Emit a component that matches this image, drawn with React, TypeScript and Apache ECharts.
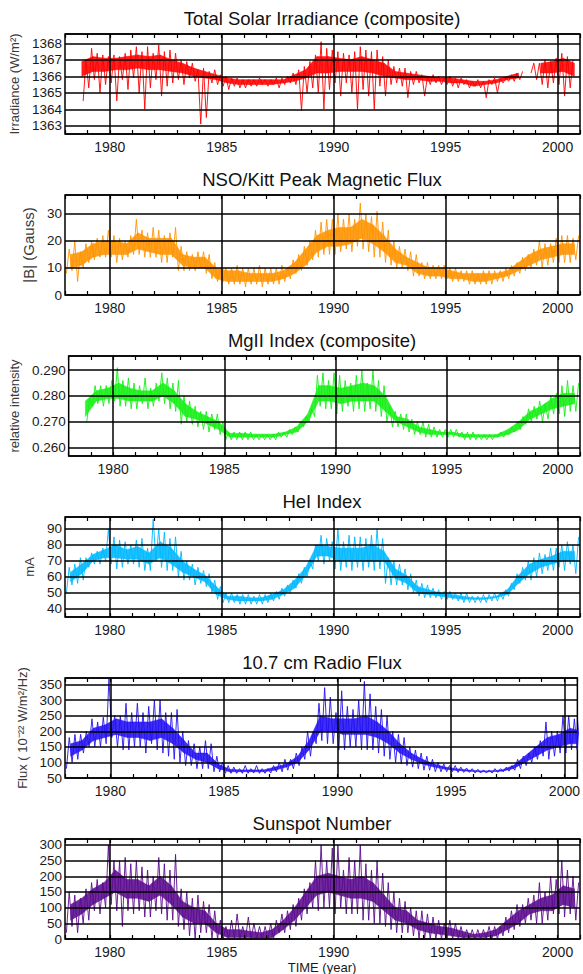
import React, { useEffect, useRef } from "react";
import * as echarts from "echarts";

// ---- time bins ----
const BIN_START = 1978;
const BIN_STEP = 0.25; // extremes (spikes): quarter-year bins
const CORE_STEP = 0.5; // dense core band: half-year bins
const gridYears = [1980, 1985, 1990, 1995, 2000];

// ---- Total Solar Irradiance (W/m2) ----
const tsiHi = [
  null, null, null, 1367.0,
  1367.7, 1367.4, 1367.3, 1367.2,
  1367.3, 1367.2, 1367.4, 1367.6,
  1367.8, 1367.5, 1367.8, 1367.4,
  1367.9, 1367.5, 1367.6, 1367.4,
  1367.0, 1366.9, 1366.8, 1366.4,
  1366.5, 1366.3, 1366.4, 1366.1,
  1366.0, 1365.9, 1365.9, 1365.8,
  1365.8, 1365.8, 1365.9, 1365.8,
  1365.8, 1365.9, 1365.9, 1366.0,
  1366.2, 1366.4, 1366.6, 1366.9,
  1367.3, 1368.1, 1367.7, 1367.6,
  1367.5, 1367.4, 1367.3, 1367.5,
  1367.8, 1367.6, 1367.5, 1367.6,
  1367.2, 1367.0, 1366.6, 1366.5,
  1366.5, 1366.3, 1366.3, 1366.1,
  1366.0, 1366.1, 1366.0, 1365.9,
  1366.0, 1365.9, 1365.9, 1365.8,
  1365.7, 1365.8, 1365.7, 1365.8,
  1365.9, 1365.9, 1365.9, 1366.1,
  1366.2, 1366.3, null, 1366.8,
  1366.8, 1367.0, 1366.9, 1367.1,
  1367.4, 1367.2, 1367.0, null,
];
const tsiLo = [
  null, null, null, 1364.5,
  1365.3, 1365.8, 1365.0, 1365.5,
  1365.6, 1364.5, 1365.8, 1365.2,
  1365.9, 1365.0, 1364.0, 1365.3,
  1365.8, 1364.8, 1365.4, 1365.6,
  1365.8, 1365.5, 1365.9, 1365.7,
  1363.1, 1363.5, 1365.6, 1365.5,
  1365.4, 1365.2, 1365.4, 1365.3,
  1365.3, 1365.4, 1365.4, 1365.5,
  1365.4, 1365.5, 1365.3, 1365.5,
  1365.6, 1365.5, 1363.9, 1365.0,
  1365.3, 1365.0, 1364.0, 1365.2,
  1365.6, 1364.8, 1365.6, 1365.0,
  1364.0, 1365.2, 1364.8, 1364.0,
  1365.4, 1364.8, 1365.5, 1365.6,
  1365.4, 1364.7, 1365.5, 1365.6,
  1364.8, 1365.5, 1365.6, 1365.5,
  1365.5, 1365.4, 1365.3, 1365.5,
  1365.3, 1365.4, 1365.3, 1364.7,
  1365.5, 1365.0, 1365.6, 1365.7,
  1365.7, 1365.8, null, 1366.2,
  1365.8, 1365.5, 1365.3, 1365.6,
  1365.5, 1364.8, 1365.3, null,
];
const tsiCoreHi = [
  null, 1366.9, 1367.2, 1367.1, 1367.1, 1367.2, 1367.3, 1367.2, 1367.3, 1367.0,
  1366.8, 1366.5, 1366.3, 1366.1, 1365.9, 1365.8, 1365.8, 1365.8, 1365.8, 1365.8,
  1366.1, 1366.4, 1367.2, 1367.2, 1367.1, 1367.0, 1367.2, 1367.0, 1366.8, 1366.3,
  1366.2, 1366.1, 1366.0, 1365.9, 1365.9, 1365.8, 1365.7, 1365.7, 1365.8, 1366.0,
  1366.2, null, 1366.8, 1366.9, 1367.1, 1366.8,
];
const tsiCoreLo = [
  null, 1366.0, 1366.3, 1366.3, 1366.4, 1366.4, 1366.5, 1366.4, 1366.4, 1366.3,
  1366.2, 1366.0, 1365.9, 1365.8, 1365.6, 1365.5, 1365.5, 1365.5, 1365.5, 1365.6,
  1365.7, 1365.9, 1366.2, 1366.2, 1366.3, 1366.3, 1366.3, 1366.2, 1366.0, 1365.9,
  1365.8, 1365.8, 1365.7, 1365.7, 1365.6, 1365.6, 1365.4, 1365.5, 1365.6, 1365.8,
  1365.9, null, 1366.2, 1366.2, 1366.3, 1366.0,
];

// ---- NSO/Kitt Peak magnetic flux |B| (Gauss) ----
const fluxHi = [
  17, 20, 16, 19,  20, 21, 22, 24,  22, 21, 20, 22,  28, 24, 23, 25,
  24, 22, 23, 25,  18, 16, 15, 16,  16, 15, 12, 10,  10, 10, 11, 10,
  10, 10, 11, 10,  10, 10, 11, 10,  13, 15, 18, 20,  24, 27, 28, 28,
  30, 28, 30, 28,  34, 30, 29, 31,  27, 24, 20, 18,  17, 16, 15, 12,
  12, 11, 11, 11,  10, 10, 9, 9,  9, 8, 9, 9,  9, 9, 10, 11,
  12, 14, 15, 17,  20, 19, 19, 21,  22, 22, 21, 22,
];
const fluxLo = [
  8, 9, 5, 10,  12, 13, 14, 14,  14, 12, 13, 14,  15, 15, 14, 14,
  14, 12, 12, 14,  9, 9, 9, 9,  10, 8, 6, 5,  5, 4, 4, 4,
  3, 4, 4, 3,  4, 4, 4, 5,  6, 8, 9, 11,  13, 14, 15, 15,
  15, 16, 17, 16,  18, 17, 16, 14,  14, 12, 11, 10,  10, 9, 7, 7,
  6, 6, 6, 6,  6, 5, 5, 5,  4, 4, 4, 4,  4, 5, 5, 6,
  7, 8, 9, 10,  11, 10, 11, 12,  12, 12, 12, 13,
];
const fluxCoreHi = [
  15, 16, 19, 20, 20, 19, 23, 21, 21, 21, 15, 14, 14, 10, 9, 9, 8, 8, 8, 9,
  12, 17, 22, 24, 25, 25, 28, 26, 22, 17, 14, 12, 10, 10, 9, 8, 8, 8, 8, 9,
  12, 15, 17, 18, 19, 19,
];
const fluxCoreLo = [
  10, 11, 14, 15, 15, 15, 17, 16, 15, 15, 11, 10, 10, 6, 5, 5, 5, 5, 5, 6,
  8, 11, 16, 18, 18, 19, 21, 19, 16, 12, 11, 8, 7, 7, 6, 6, 5, 5, 6, 7,
  9, 11, 13, 14, 15, 15,
];

// ---- MgII index (relative intensity) ----
const mgHi = [
  null, null, null, 0.279,
  0.284, 0.284, 0.284, 0.286,  0.291, 0.286, 0.287, 0.285,
  0.284, 0.287, 0.283, 0.285,  0.289, 0.287, 0.285, 0.286,
  0.280, 0.278, 0.276, 0.274,  0.274, 0.273, 0.273, 0.270,
  0.266, 0.266, 0.266, 0.266,  0.266, 0.265, 0.265, 0.265,
  0.265, 0.266, 0.266, 0.267,  0.268, 0.270, 0.272, 0.275,
  0.288, 0.289, 0.286, 0.289,  0.288, 0.286, 0.285, 0.288,
  0.290, 0.285, 0.290, 0.286,  0.284, 0.276, 0.274, 0.273,
  0.273, 0.271, 0.270, 0.270,  0.269, 0.268, 0.267, 0.267,
  0.267, 0.267, 0.266, 0.266,  0.266, 0.265, 0.265, 0.265,
  0.265, 0.266, 0.266, 0.268,  0.270, 0.272, 0.275, 0.276,
  0.278, 0.277, 0.280, 0.281,  0.284, 0.286, 0.284, 0.285,
];
const mgLo = [
  null, null, null, 0.270,
  0.276, 0.277, 0.276, 0.277,  0.278, 0.276, 0.276, 0.275,
  0.275, 0.277, 0.275, 0.276,  0.278, 0.277, 0.275, 0.274,
  0.269, 0.270, 0.269, 0.268,  0.267, 0.266, 0.267, 0.265,
  0.263, 0.263, 0.263, 0.263,  0.263, 0.263, 0.263, 0.263,
  0.263, 0.263, 0.264, 0.264,  0.265, 0.266, 0.268, 0.270,
  0.272, 0.276, 0.275, 0.275,  0.273, 0.274, 0.276, 0.274,
  0.275, 0.274, 0.275, 0.274,  0.272, 0.270, 0.268, 0.268,
  0.267, 0.266, 0.265, 0.265,  0.264, 0.264, 0.264, 0.264,
  0.264, 0.264, 0.264, 0.263,  0.263, 0.263, 0.263, 0.263,
  0.263, 0.264, 0.264, 0.265,  0.266, 0.267, 0.269, 0.270,
  0.271, 0.270, 0.271, 0.273,  0.273, 0.272, 0.274, 0.274,
];
const mgCoreHi = [
  null, 0.278, 0.282, 0.283, 0.285, 0.283, 0.282, 0.282, 0.285, 0.282,
  0.277, 0.274, 0.272, 0.270, 0.2655, 0.2655, 0.2652, 0.2652, 0.2652, 0.266,
  0.268, 0.273, 0.284, 0.284, 0.283, 0.284, 0.285, 0.284, 0.280, 0.272,
  0.271, 0.268, 0.267, 0.266, 0.266, 0.2652, 0.265, 0.265, 0.265, 0.267,
  0.270, 0.274, 0.276, 0.279, 0.281, 0.281,
];
const mgCoreLo = [
  null, 0.272, 0.278, 0.279, 0.279, 0.278, 0.278, 0.278, 0.280, 0.277,
  0.272, 0.271, 0.269, 0.267, 0.264, 0.264, 0.264, 0.264, 0.264, 0.265,
  0.266, 0.270, 0.278, 0.278, 0.277, 0.278, 0.278, 0.278, 0.274, 0.270,
  0.268, 0.266, 0.265, 0.265, 0.265, 0.264, 0.264, 0.264, 0.264, 0.265,
  0.267, 0.271, 0.273, 0.275, 0.276, 0.277,
];

// ---- HeI index (mA) ----
const heHi = [
  66, 68, 72, 72,  75, 76, 78, 90,  85, 83, 82, 80,  83, 84, 78, 96,
  90, 88, 84, 85,  76, 70, 68, 66,  64, 62, 58, 54,  50, 50, 49, 49,
  49, 48, 49, 49,  50, 51, 53, 55,  58, 62, 66, 70,  80, 86, 84, 82,
  90, 82, 86, 85,  85, 84, 86, 90,  84, 72, 70, 68,  65, 62, 58, 56,
  55, 53, 52, 51,  51, 50, 50, 50,  48, 48, 49, 49,  50, 50, 52, 56,
  62, 66, 70, 72,  75, 74, 78, 78,  80, 82, 80, 85,
];
const heLo = [
  50, 55, 56, 58,  66, 68, 68, 70,  68, 65, 66, 68,  68, 66, 64, 64,
  70, 66, 64, 64,  60, 58, 58, 55,  56, 54, 50, 46,  44, 44, 44, 43,
  43, 43, 43, 43,  44, 45, 46, 48,  50, 53, 56, 60,  65, 70, 68, 70,
  65, 64, 66, 64,  66, 64, 66, 64,  65, 56, 55, 55,  55, 52, 50, 48,
  47, 47, 47, 46,  46, 46, 45, 44,  44, 44, 44, 44,  45, 45, 46, 48,
  52, 56, 58, 58,  60, 62, 64, 64,  66, 64, 68, 62,
];
const heCoreHi = [
  63, 68, 74, 77, 80, 77, 79, 75, 82, 78, 70, 65, 61, 54, 48, 48, 47, 47, 49, 52,
  58, 66, 80, 79, 78, 78, 78, 80, 76, 65, 61, 54, 52, 50, 49, 48, 47, 47, 48, 52,
  61, 68, 71, 73, 76, 76,
];
const heCoreLo = [
  57, 62, 70, 72, 72, 71, 71, 68, 72, 68, 63, 60, 57, 49, 46, 45, 45, 45, 46, 49,
  53, 61, 73, 73, 70, 70, 70, 70, 70, 59, 56, 50, 49, 48, 47, 46, 46, 46, 47, 49,
  56, 62, 66, 68, 70, 70,
];

// ---- 10.7 cm radio flux (10^-22 W/m2/Hz) ----
const radioHi = [
  180, 190, 190, 200,  240, 230, 245, 370,  250, 250, 290, 260,  290, 260, 280, 300,
  300, 260, 260, 270,  200, 170, 160, 150,  170, 160, 120, 100,  90, 85, 80, 90,
  80, 90, 80, 80,  90, 100, 110, 110,  130, 150, 200, 200,  290, 340, 310, 260,
  330, 280, 270, 300,  360, 320, 280, 270,  250, 200, 190, 180,  150, 140, 130, 120,
  110, 100, 95, 90,  90, 85, 82, 80,  78, 76, 76, 80,  80, 85, 90, 110,
  120, 130, 150, 170,  230, 200, 200, 250,  250, 240, 260, 260,
];
const radioLo = [
  80, 100, 110, 130,  150, 150, 150, 160,  180, 150, 140, 140,  150, 150, 130, 160,
  140, 130, 120, 110,  100, 90, 90, 80,  80, 80, 70, 70,  65, 65, 65, 65,
  65, 66, 65, 65,  66, 70, 70, 75,  80, 90, 110, 120,  160, 170, 160, 160,
  140, 140, 150, 150,  140, 140, 140, 130,  120, 110, 100, 95,  90, 85, 80, 75,
  75, 70, 70, 70,  70, 68, 68, 68,  66, 66, 66, 66,  68, 70, 72, 75,
  80, 90, 100, 110,  120, 110, 120, 130,  130, 140, 140, 140,
];
const radioCoreHi = [
  160, 170, 210, 220, 240, 230, 230, 230, 240, 210, 170, 130, 130, 95, 78, 76, 76, 76, 85, 95,
  120, 170, 250, 240, 240, 240, 250, 230, 200, 160, 130, 110, 95, 85, 80, 76, 73, 73, 76, 90,
  120, 150, 180, 190, 210, 200,
];
const radioCoreLo = [
  120, 140, 170, 180, 190, 180, 180, 170, 180, 160, 130, 110, 100, 80, 70, 70, 70, 70, 75, 85,
  100, 140, 200, 200, 190, 190, 190, 180, 160, 130, 110, 95, 85, 78, 74, 72, 70, 70, 72, 80,
  100, 120, 140, 150, 160, 160,
];

// ---- Sunspot number ----
const ssnHi = [
  150, 140, 130, 160,  180, 190, 180, 300,  250, 250, 260, 240,  250, 230, 220, 200,
  260, 240, 220, 270,  160, 150, 130, 140,  120, 110, 90, 60,  40, 60, 80, 40,
  70, 50, 40, 40,  50, 60, 80, 90,  110, 130, 160, 180,  250, 300, 250, 290,
  300, 220, 260, 250,  300, 240, 220, 250,  210, 180, 150, 130,  120, 100, 90, 90,
  80, 70, 60, 50,  60, 50, 40, 30,  30, 30, 30, 40,  40, 40, 70, 90,
  110, 110, 130, 140,  180, 150, 200, 190,  250, 220, 200, 180,
];
const ssnLo = [
  20, 40, 20, 50,  60, 90, 80, 100,  110, 90, 40, 90,  80, 90, 70, 70,
  90, 80, 60, 60,  40, 30, 10, 0,  20, 20, 0, 0,  0, 0, 0, 0,
  0, 0, 0, 0,  0, 0, 20, 20,  30, 40, 60, 80,  100, 90, 100, 100,
  80, 100, 80, 80,  80, 60, 60, 50,  50, 40, 30, 20,  20, 20, 10, 0,
  0, 0, 0, 0,  0, 0, 0, 0,  0, 0, 0, 0,  0, 0, 10, 20,
  30, 40, 50, 60,  50, 50, 60, 80,  80, 70, 80, 60,
];
const ssnCoreHi = [
  110, 130, 160, 180, 220, 190, 190, 170, 200, 170, 120, 100, 90, 50, 30, 30, 25, 20, 30, 60,
  100, 150, 200, 210, 200, 190, 200, 180, 140, 100, 90, 60, 50, 40, 35, 25, 15, 20, 30, 60,
  90, 110, 130, 140, 170, 160,
];
const ssnCoreLo = [
  60, 80, 110, 130, 150, 130, 130, 120, 140, 110, 70, 50, 50, 20, 5, 5, 5, 0, 5, 30,
  60, 100, 140, 150, 140, 130, 130, 120, 90, 60, 50, 30, 20, 15, 10, 5, 5, 5, 10, 30,
  50, 80, 90, 90, 110, 100,
];

const FONT = '"Liberation Sans", Arial, Helvetica, sans-serif';
const BOX_LEFT = 65;
const BOX_RIGHT = 3;
const BOX_TOP0 = 34;
const PITCH = 161;
const BOX_H = 100;
const CX = 322;

type Arr = (number | null)[];
type Panel = {
  title: string;
  hi: Arr; lo: Arr; coreHi: Arr; coreLo: Arr;
  color: string;
  yMin: number; yMax: number; yStep: number; dec: number;
  xMax: number;
  yName: string; nameGap: number; nameSize: number;
};

const panels: Panel[] = [
  { title: "Total Solar Irradiance (composite)", hi: tsiHi, lo: tsiLo, coreHi: tsiCoreHi, coreLo: tsiCoreLo, color: "#ff0000", yMin: 1362.5, yMax: 1368.57, yStep: 1, dec: 0, xMax: 2001, yName: "Irradiance (W/m²)", nameGap: 40, nameSize: 13 },
  { title: "NSO/Kitt Peak Magnetic Flux", hi: fluxHi, lo: fluxLo, coreHi: fluxCoreHi, coreLo: fluxCoreLo, color: "#ff9400", yMin: 0, yMax: 37, yStep: 10, dec: 0, xMax: 2001, yName: "|B| (Gauss)", nameGap: 25, nameSize: 15 },
  { title: "MgII Index (composite)", hi: mgHi, lo: mgLo, coreHi: mgCoreHi, coreLo: mgCoreLo, color: "#14f014", yMin: 0.2567, yMax: 0.2955, yStep: 0.01, dec: 3, xMax: 2001, yName: "relative intensity", nameGap: 43, nameSize: 13 },
  { title: "HeI Index", hi: heHi, lo: heLo, coreHi: heCoreHi, coreLo: heCoreLo, color: "#00b8ff", yMin: 35, yMax: 97.4, yStep: 10, dec: 0, xMax: 2001, yName: "mA", nameGap: 25, nameSize: 13 },
  { title: "10.7 cm Radio Flux", hi: radioHi, lo: radioLo, coreHi: radioCoreHi, coreLo: radioCoreLo, color: "#2412f2", yMin: 50, yMax: 371, yStep: 50, dec: 0, xMax: 2000.57, yName: "Flux ( 10⁻²² W/m²/Hz)", nameGap: 36, nameSize: 13 },
  { title: "Sunspot Number", hi: ssnHi, lo: ssnLo, coreHi: ssnCoreHi, coreLo: ssnCoreLo, color: "#5b0b8e", yMin: 0, yMax: 319, yStep: 50, dec: 0, xMax: 2001, yName: "", nameGap: 30, nameSize: 13 },
];

function zigzag(hi: Arr, lo: Arr) {
  const pts: any[] = [];
  for (let i = 0; i < hi.length; i++) {
    const t = BIN_START + i * BIN_STEP;
    const h = hi[i];
    const l = lo[i];
    if (h == null || l == null) {
      pts.push([t + BIN_STEP / 2, "-"]);
      continue;
    }
    pts.push([t + BIN_STEP * 0.25, l]);
    pts.push([t + BIN_STEP * 0.75, h]);
  }
  return pts;
}

// one quad per pair of consecutive core bins: [t0, lo0, hi0, t1, lo1, hi1]
function coreQuads(hi: Arr, lo: Arr) {
  const out: number[][] = [];
  for (let j = 0; j + 1 < hi.length; j++) {
    const h0 = hi[j], l0 = lo[j], h1 = hi[j + 1], l1 = lo[j + 1];
    if (h0 == null || l0 == null || h1 == null || l1 == null) continue;
    out.push([BIN_START + (j + 0.5) * CORE_STEP, l0, h0, BIN_START + (j + 1.5) * CORE_STEP, l1, h1]);
  }
  return out;
}

function isMultiple(v: number, step: number) {
  const r = v / step;
  return Math.abs(r - Math.round(r)) < 1e-6;
}

export default function App() {
  const ref = useRef<HTMLDivElement>(null);
  useEffect(() => {
    if (!ref.current) return;
    const chart = echarts.init(ref.current, undefined, { renderer: "svg" });
    const grid: any[] = [];
    const xAxis: any[] = [];
    const yAxis: any[] = [];
    const series: any[] = [];
    const graphic: any[] = [];

    panels.forEach((p, k) => {
      const top = BOX_TOP0 + k * PITCH;
      grid.push({ left: BOX_LEFT, right: BOX_RIGHT, top, height: BOX_H, show: true, borderColor: "#000", borderWidth: 1.5, backgroundColor: "transparent" });
      const tickCfg = { show: true, inside: true, length: 4, lineStyle: { color: "#000", width: 1.2 } };
      xAxis.push({
        type: "value", gridIndex: k, min: 1978, max: p.xMax, interval: 1, position: "bottom",
        axisLine: { show: false }, axisTick: tickCfg, splitLine: { show: false },
        axisLabel: {
          fontSize: 14, fontFamily: FONT, color: "#1a1a1a", margin: 6,
          formatter: (v: number) => (isMultiple(v, 5) ? String(Math.round(v)) : ""),
        },
        z: 5,
      });
      xAxis.push({
        type: "value", gridIndex: k, min: 1978, max: p.xMax, interval: 1, position: "top",
        axisLine: { show: false }, axisTick: tickCfg, splitLine: { show: false }, axisLabel: { show: false },
        z: 5,
      });
      yAxis.push({
        type: "value", gridIndex: k, min: p.yMin, max: p.yMax, minInterval: p.yStep, maxInterval: p.yStep, splitNumber: 5,
        axisLine: { show: false }, axisTick: { show: false },
        axisLabel: {
          fontSize: 13.5, fontFamily: FONT, color: "#1a1a1a", margin: 3,
          formatter: (v: number) => (isMultiple(v, p.yStep) ? v.toFixed(p.dec) : ""),
        },
        splitLine: { show: true, lineStyle: { color: "#000", width: 1.5 } },
        name: p.yName, nameLocation: "middle", nameGap: p.nameGap,
        nameTextStyle: { fontSize: p.nameSize, fontFamily: FONT, color: "#3a3a3a" },
        z: 5,
      });
      const color = p.color;
      series.push({
        type: "custom", xAxisIndex: 2 * k, yAxisIndex: k, data: coreQuads(p.coreHi, p.coreLo),
        encode: { x: [0, 3], y: [1, 2, 4, 5] }, silent: true, clip: true, z: 2,
        renderItem: (_params: any, api: any) => {
          const a = api.coord([api.value(0), api.value(1)]);
          const b = api.coord([api.value(3), api.value(4)]);
          const c = api.coord([api.value(3), api.value(5)]);
          const d = api.coord([api.value(0), api.value(2)]);
          return {
            type: "polygon",
            shape: { points: [a, b, c, d] },
            style: { fill: color, stroke: color, lineWidth: 0.5, opacity: 0.88 },
          };
        },
      });
      series.push({
        type: "line", xAxisIndex: 2 * k, yAxisIndex: k, data: zigzag(p.hi, p.lo),
        showSymbol: false, symbol: "none", silent: true, connectNulls: false, clip: true,
        lineStyle: { color: p.color, width: 1, opacity: 0.9 }, itemStyle: { color: p.color },
        emphasis: { disabled: true }, z: 3,
        markLine: {
          silent: true, symbol: ["none", "none"], label: { show: false }, animation: false,
          lineStyle: { color: "#000", width: 1.5, type: "solid" },
          emphasis: { disabled: true },
          data: gridYears.map((y) => ({ xAxis: y })),
        },
      });
      graphic.push({
        type: "text", x: CX, y: top - 16, silent: true,
        style: { text: p.title, fontSize: 18.5, fontFamily: FONT, fill: "#111", align: "center", verticalAlign: "middle" },
      });
    });

    graphic.push({
      type: "text", x: CX, y: 967, silent: true,
      style: { text: "TIME (year)", fontSize: 13, fontFamily: FONT, fill: "#1a1a1a", align: "center", verticalAlign: "middle" },
    });

    chart.setOption({ animation: false, backgroundColor: "#ffffff", grid, xAxis, yAxis, series, graphic });
    return () => chart.dispose();
  }, []);

  return <div ref={ref} style={{ position: "fixed", left: 0, top: 0, width: 583, height: 974 }} />;
}
